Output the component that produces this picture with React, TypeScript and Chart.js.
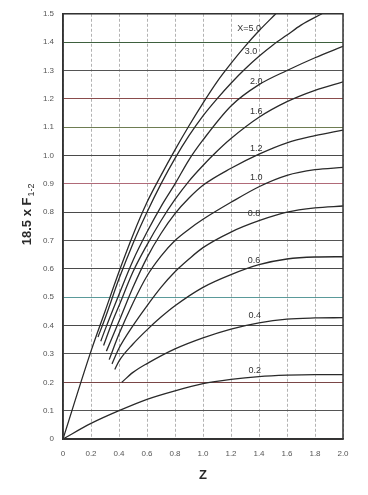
import { useEffect, useRef } from "react";
import { Chart, registerables } from "chart.js";
Chart.register(...registerables);

// Tick values and labels
const zTicks = [0, 0.2, 0.4, 0.6, 0.8, 1.0, 1.2, 1.4, 1.6, 1.8, 2.0];
const zTickLabels = ["0", "0.2", "0.4", "0.6", "0.8", "1.0", "1.2", "1.4", "1.6", "1.8", "2.0"];
const vTicks = [0, 0.1, 0.2, 0.3, 0.4, 0.5, 0.6, 0.7, 0.8, 0.9, 1.0, 1.1, 1.2, 1.3, 1.4, 1.5];
const vTickLabels = ["0", "0.1", "0.2", "0.3", "0.4", "0.5", "0.6", "0.7", "0.8", "0.9", "1.0", "1.1", "1.2", "1.3", "1.4", "1.5"];

// Curve names (parameter X)
const curveNames = ["X=5.0", "3.0", "2.0", "1.6", "1.2", "1.0", "0.8", "0.6", "0.4", "0.2"];

// Series values (Z, 18.5 x F1-2)
const z50 = [0, 0.2, 0.3, 0.4, 0.5, 0.6, 0.7, 0.8, 0.9, 1.0, 1.1, 1.2, 1.3, 1.4, 1.52];
const v50 = [0, 0.31, 0.45, 0.59, 0.72, 0.835, 0.93, 1.02, 1.105, 1.185, 1.26, 1.325, 1.385, 1.44, 1.5];
const z30 = [0.25, 0.3, 0.4, 0.5, 0.6, 0.7, 0.8, 0.9, 1.0, 1.1, 1.2, 1.3, 1.4, 1.5, 1.6, 1.7, 1.85];
const v30 = [0.36, 0.425, 0.565, 0.69, 0.8, 0.9, 0.99, 1.07, 1.14, 1.2, 1.255, 1.305, 1.35, 1.39, 1.425, 1.46, 1.5];
const z20 = [0.27, 0.3, 0.4, 0.5, 0.6, 0.7, 0.8, 0.9, 1.0, 1.2, 1.4, 1.6, 1.8, 2.0];
const v20 = [0.345, 0.385, 0.51, 0.63, 0.73, 0.82, 0.9, 0.985, 1.055, 1.175, 1.25, 1.3, 1.345, 1.385];
const z16 = [0.29, 0.35, 0.4, 0.5, 0.6, 0.7, 0.8, 0.9, 1.0, 1.1, 1.2, 1.4, 1.6, 1.8, 2.0];
const v16 = [0.33, 0.41, 0.47, 0.59, 0.685, 0.77, 0.845, 0.91, 0.965, 1.015, 1.06, 1.135, 1.19, 1.23, 1.26];
const z12 = [0.31, 0.4, 0.5, 0.6, 0.7, 0.8, 0.9, 1.0, 1.2, 1.4, 1.6, 1.8, 2.0];
const v12 = [0.31, 0.415, 0.535, 0.64, 0.725, 0.795, 0.85, 0.895, 0.955, 1.005, 1.045, 1.07, 1.09];
const z10 = [0.33, 0.4, 0.5, 0.6, 0.7, 0.8, 0.9, 1.0, 1.2, 1.4, 1.6, 1.8, 2.0];
const v10 = [0.28, 0.37, 0.48, 0.575, 0.645, 0.7, 0.74, 0.775, 0.835, 0.89, 0.93, 0.95, 0.958];
const z08 = [0.35, 0.4, 0.5, 0.6, 0.7, 0.8, 0.9, 1.0, 1.2, 1.4, 1.6, 1.8, 2.0];
const v08 = [0.265, 0.32, 0.4, 0.47, 0.535, 0.59, 0.635, 0.675, 0.73, 0.77, 0.8, 0.815, 0.822];
const z06 = [0.37, 0.4, 0.5, 0.6, 0.7, 0.8, 1.0, 1.2, 1.4, 1.6, 1.8, 2.0];
const v06 = [0.245, 0.275, 0.335, 0.385, 0.43, 0.47, 0.535, 0.58, 0.615, 0.635, 0.642, 0.643];
const z04 = [0.42, 0.5, 0.6, 0.8, 1.0, 1.2, 1.4, 1.6, 1.8, 2.0];
const v04 = [0.2, 0.235, 0.266, 0.318, 0.357, 0.388, 0.41, 0.423, 0.427, 0.428];
const z02 = [0, 0.2, 0.4, 0.6, 0.8, 1.0, 1.2, 1.4, 1.6, 1.8, 2.0];
const v02 = [0, 0.055, 0.1, 0.14, 0.17, 0.195, 0.21, 0.22, 0.225, 0.227, 0.227];

const seriesZ = [z50, z30, z20, z16, z12, z10, z08, z06, z04, z02];
const seriesV = [v50, v30, v20, v16, v12, v10, v08, v06, v04, v02];

// Curve label anchors (data units)
const labelZ = [1.33, 1.343, 1.38, 1.38, 1.38, 1.38, 1.365, 1.365, 1.37, 1.37];
const labelV = [1.447, 1.367, 1.262, 1.157, 1.024, 0.923, 0.797, 0.629, 0.434, 0.241];

// Styles
const hGridColors = ["#5a4a4a", "#555", "#7a4646", "#555", "#4a4a4a", "#5a9a9a", "#4a4a4a", "#555", "#4a4a4a", "#b06a78", "#4a4a4a", "#6e7d52", "#8a4c4c", "#555", "#3e603e", "#333"];
const FONT = "'Liberation Sans', Arial, sans-serif";

const overlay = {
  id: "overlay",
  afterDraw(chart: any) {
    const { ctx, chartArea, scales } = chart;
    const xs = scales.x;
    const ys = scales.y;
    ctx.save();
    ctx.strokeStyle = "#333";
    ctx.lineWidth = 1.5;
    ctx.strokeRect(chartArea.left, chartArea.top, chartArea.right - chartArea.left, chartArea.bottom - chartArea.top);
    ctx.fillStyle = "#333";
    ctx.font = `9px ${FONT}`;
    ctx.textAlign = "center";
    ctx.textBaseline = "middle";
    curveNames.forEach((t, i) => {
      ctx.fillText(t, xs.getPixelForValue(labelZ[i]), ys.getPixelForValue(labelV[i]));
    });
    // Y title with subscript
    const main = "18.5 x F";
    const sub = "1-2";
    ctx.font = `bold 13px ${FONT}`;
    const w1 = ctx.measureText(main).width;
    ctx.font = `9px ${FONT}`;
    const w2 = ctx.measureText(sub).width;
    const total = w1 + 1 + w2;
    ctx.translate(31, (chartArea.top + chartArea.bottom) / 2 - 12);
    ctx.rotate(-Math.PI / 2);
    ctx.textAlign = "left";
    ctx.textBaseline = "alphabetic";
    ctx.fillStyle = "#2a2a2a";
    ctx.font = `bold 13px ${FONT}`;
    ctx.fillText(main, -total / 2, 0);
    ctx.font = `9px ${FONT}`;
    ctx.fillText(sub, -total / 2 + w1 + 1, 3);
    ctx.restore();
  },
};

export default function App() {
  const ref = useRef<HTMLCanvasElement | null>(null);
  useEffect(() => {
    document.body.style.margin = "0";
    const canvas = ref.current;
    if (!canvas) return;
    const datasets = seriesZ.map((zs, i) => ({
      label: curveNames[i],
      data: zs.map((z, j) => ({ x: z, y: seriesV[i][j] })),
      borderColor: "#2a2a2a",
      borderWidth: 1.3,
      pointRadius: 0,
      fill: false,
      cubicInterpolationMode: "monotone" as const,
    }));
    const chart = new Chart(canvas, {
      type: "line",
      data: { datasets },
      plugins: [overlay],
      options: {
        animation: false,
        responsive: false,
        maintainAspectRatio: false,
        layout: { padding: { top: 10, right: 25, left: 0, bottom: 0 } },
        plugins: { legend: { display: false }, tooltip: { enabled: false } },
        scales: {
          x: {
            type: "linear",
            min: 0,
            max: 2,
            afterBuildTicks: (s: any) => {
              s.ticks = zTicks.map((v) => ({ value: v }));
            },
            afterFit: (s: any) => {
              s.height = 56;
            },
            ticks: {
              callback: (_v: any, i: number) => zTickLabels[i],
              font: { size: 8, family: FONT },
              color: "#555",
              padding: 10,
              maxRotation: 0,
              autoSkip: false,
            },
            grid: {
              color: "#a0a0a0",
              lineWidth: 0.8,
              drawTicks: false,
            },
            border: { display: true, color: "#333", width: 1.5, dash: [3, 2] },
            title: {
              display: true,
              text: "Z",
              font: { size: 13, weight: "bold", family: FONT },
              color: "#2a2a2a",
              padding: { top: 0, bottom: 12 },
            },
          },
          y: {
            type: "linear",
            min: 0,
            max: 1.5,
            afterBuildTicks: (s: any) => {
              s.ticks = vTicks.map((v) => ({ value: v }));
            },
            afterFit: (s: any) => {
              s.width = 63;
            },
            ticks: {
              callback: (_v: any, i: number) => vTickLabels[i],
              font: { size: 8, family: FONT },
              color: "#555",
              padding: 9,
              autoSkip: false,
            },
            grid: {
              color: (c: any) => hGridColors[c.index] || "#4a4a4a",
              lineWidth: 1,
              drawTicks: false,
            },
            border: { display: true, color: "#333", width: 1.5 },
          },
        },
      },
    });
    return () => chart.destroy();
  }, []);
  return (
    <div style={{ width: 368, height: 495, background: "#fff" }}>
      <canvas ref={ref} width={368} height={495} style={{ display: "block" }} />
    </div>
  );
}
